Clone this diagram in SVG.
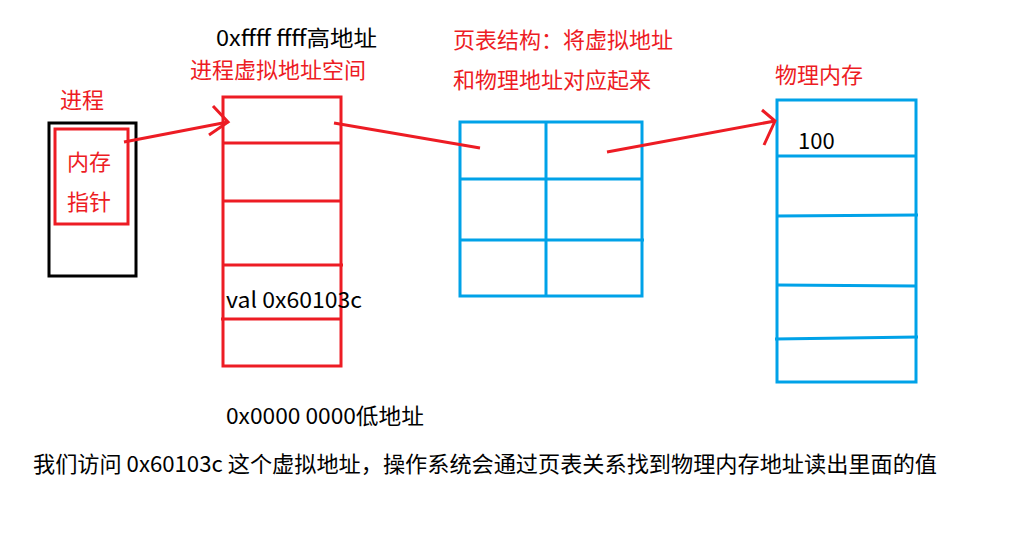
<svg xmlns="http://www.w3.org/2000/svg" width="1012" height="536" viewBox="0 0 1012 536">
<style>
text{font-family:"Noto Sans CJK SC","Liberation Sans",sans-serif;font-size:22px}
.r{fill:#ed1c24}
.k{fill:#000}
.rs{fill:none;stroke:#ed1c24;stroke-width:3}
.bs{fill:none;stroke:#00a2e8;stroke-width:3}
.ks{fill:none;stroke:#000;stroke-width:3}
</style>
<rect width="1012" height="536" fill="#fff"/>
<g id="process">
<rect class="ks" x="49" y="123" width="87" height="153"/>
<rect class="rs" x="55" y="129" width="73" height="95"/>
<text class="r" x="60" y="108">进程</text>
<text class="r" x="67" y="170">内存</text>
<text class="r" x="67" y="210">指针</text>
</g>
<g id="virtual">
<rect class="rs" x="223" y="97" width="118" height="269"/>
<line class="rs" x1="223" y1="143" x2="341" y2="143"/>
<line class="rs" x1="222" y1="201" x2="341" y2="201"/>
<line class="rs" x1="223" y1="265" x2="343" y2="265"/>
<line class="rs" x1="221" y1="319" x2="341" y2="319"/>
<text class="k" x="216" y="46" textLength="161" lengthAdjust="spacingAndGlyphs">0xffff ffff高地址</text>
<text class="r" x="190" y="78">进程虚拟地址空间</text>
<text class="k" x="226" y="308" textLength="136" lengthAdjust="spacingAndGlyphs">val 0x60103c</text>
<text class="k" x="226" y="424" textLength="198" lengthAdjust="spacingAndGlyphs">0x0000 0000低地址</text>
</g>
<g id="pagetable">
<rect class="bs" x="460" y="122" width="182" height="174"/>
<line class="bs" x1="546" y1="122" x2="546" y2="296"/>
<line class="bs" x1="460" y1="179" x2="642" y2="179"/>
<line class="bs" x1="460" y1="240" x2="644" y2="240"/>
<text class="r" x="453" y="48">页表结构：将虚拟地址</text>
<text class="r" x="453" y="88">和物理地址对应起来</text>
</g>
<g id="physical">
<rect class="bs" x="777" y="100" width="139" height="282"/>
<line class="bs" x1="777" y1="156" x2="916" y2="156"/>
<line class="bs" x1="777" y1="216" x2="918" y2="215"/>
<line class="bs" x1="777" y1="285" x2="916" y2="286"/>
<line class="bs" x1="775" y1="339" x2="918" y2="337"/>
<text class="r" x="775" y="83">物理内存</text>
<text class="k" x="798" y="149">100</text>
</g>
<g id="connectors">
<polyline class="rs" points="124,142 228,122"/>
<polyline class="rs" points="213,106 228,122 209,135"/>
<polyline class="rs" points="334,123 480,148"/>
<polyline class="rs" points="607,152 775,121"/>
<polyline class="rs" points="762,110 775,121 764,145"/>
</g>
<text class="k" x="33" y="472" textLength="904" lengthAdjust="spacingAndGlyphs">我们访问 0x60103c 这个虚拟地址，操作系统会通过页表关系找到物理内存地址读出里面的值</text>
</svg>
